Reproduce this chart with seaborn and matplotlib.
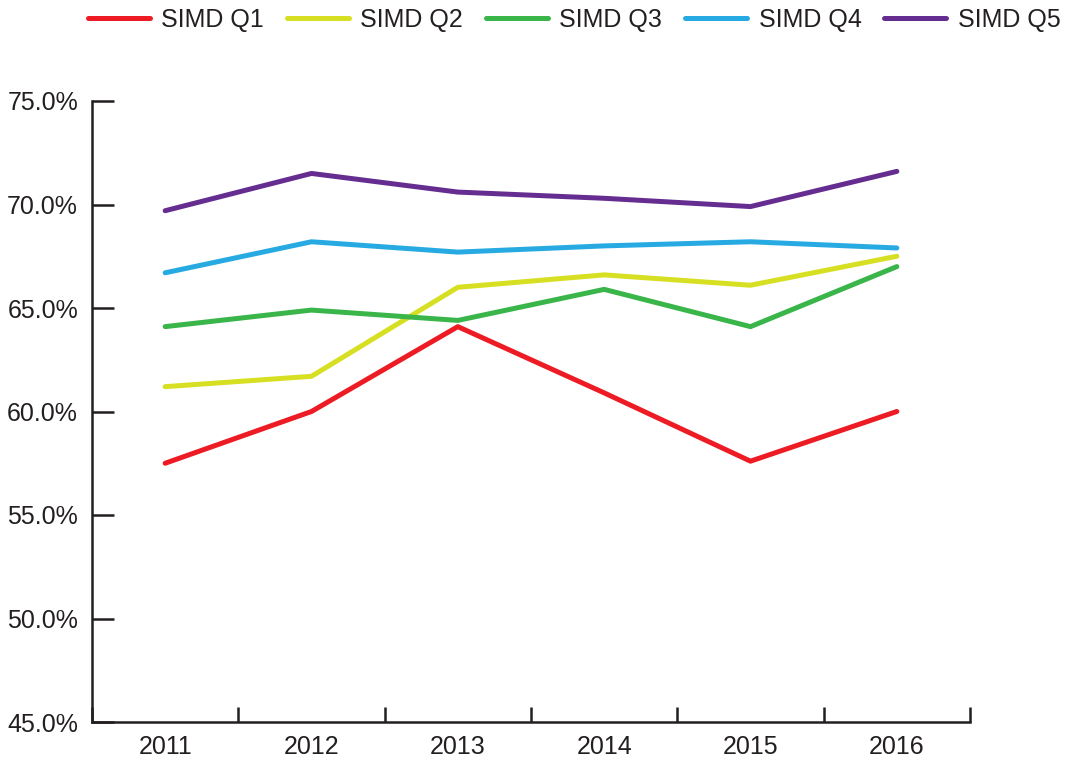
import pandas as pd
import matplotlib.pyplot as plt
import seaborn as sns
from matplotlib.ticker import FixedLocator

# values (%)
years = ["2011", "2012", "2013", "2014", "2015", "2016"]
q1 = [57.5, 60.0, 64.1, 60.9, 57.6, 60.0]
q2 = [61.2, 61.7, 66.0, 66.6, 66.1, 67.5]
q3 = [64.1, 64.9, 64.4, 65.9, 64.1, 67.0]
q4 = [66.7, 68.2, 67.7, 68.0, 68.2, 67.9]
q5 = [69.7, 71.5, 70.6, 70.3, 69.9, 71.6]
groups = ["SIMD Q1", "SIMD Q2", "SIMD Q3", "SIMD Q4", "SIMD Q5"]
colors = ["#ED1C24", "#D7DF23", "#39B54A", "#27AAE1", "#662D91"]

rows = []
for g, vals in zip(groups, [q1, q2, q3, q4, q5]):
    for y, v in zip(years, vals):
        rows.append({"year": y, "value": v, "group": g})
df = pd.DataFrame(rows)

sns.set_style("white")
plt.rcParams["font.family"] = ["Liberation Sans", "DejaVu Sans"]

fig = plt.figure(figsize=(10.65, 7.58), dpi=100)
ax = fig.add_axes([92 / 1065, 1 - 722 / 758, (970 - 92) / 1065, (722 - 101) / 758])

sns.lineplot(data=df, x="year", y="value", hue="group", palette=colors,
             linewidth=3.6, ax=ax, sort=False, solid_capstyle="round")

ax.set_xlim(-0.5, 5.5)
ax.set_ylim(45, 75)
ax.set_yticks([45, 50, 55, 60, 65, 70, 75])
ax.set_yticklabels([f"{v:.1f}%" for v in [45, 50, 55, 60, 65, 70, 75]])
ax.xaxis.set_minor_locator(FixedLocator([i - 0.5 for i in range(len(years) + 1)]))

ax.tick_params(axis="y", direction="in", length=16, width=1.8, color="#231F20",
               labelsize=18, pad=10, labelcolor="#231F20", left=True)
ax.tick_params(axis="x", which="major", length=0, labelsize=18, pad=9,
               labelcolor="#231F20")
ax.tick_params(axis="x", which="minor", direction="in", length=11, width=1.8,
               color="#231F20", bottom=True)

for s in ["top", "right"]:
    ax.spines[s].set_visible(False)
for s in ["left", "bottom"]:
    ax.spines[s].set_color("#231F20")
    ax.spines[s].set_linewidth(1.8)

ax.set_xlabel("")
ax.set_ylabel("")
ax.grid(False)

handles, labels = ax.get_legend_handles_labels()
ax.get_legend().remove()
fig.legend(handles, labels, loc="center", bbox_to_anchor=(0.539, 0.974), ncol=5,
           frameon=False, fontsize=18, handlelength=2.5, handletextpad=0.45,
           columnspacing=0.9, labelcolor="#231F20")

fig.savefig("out.png", dpi=100)
